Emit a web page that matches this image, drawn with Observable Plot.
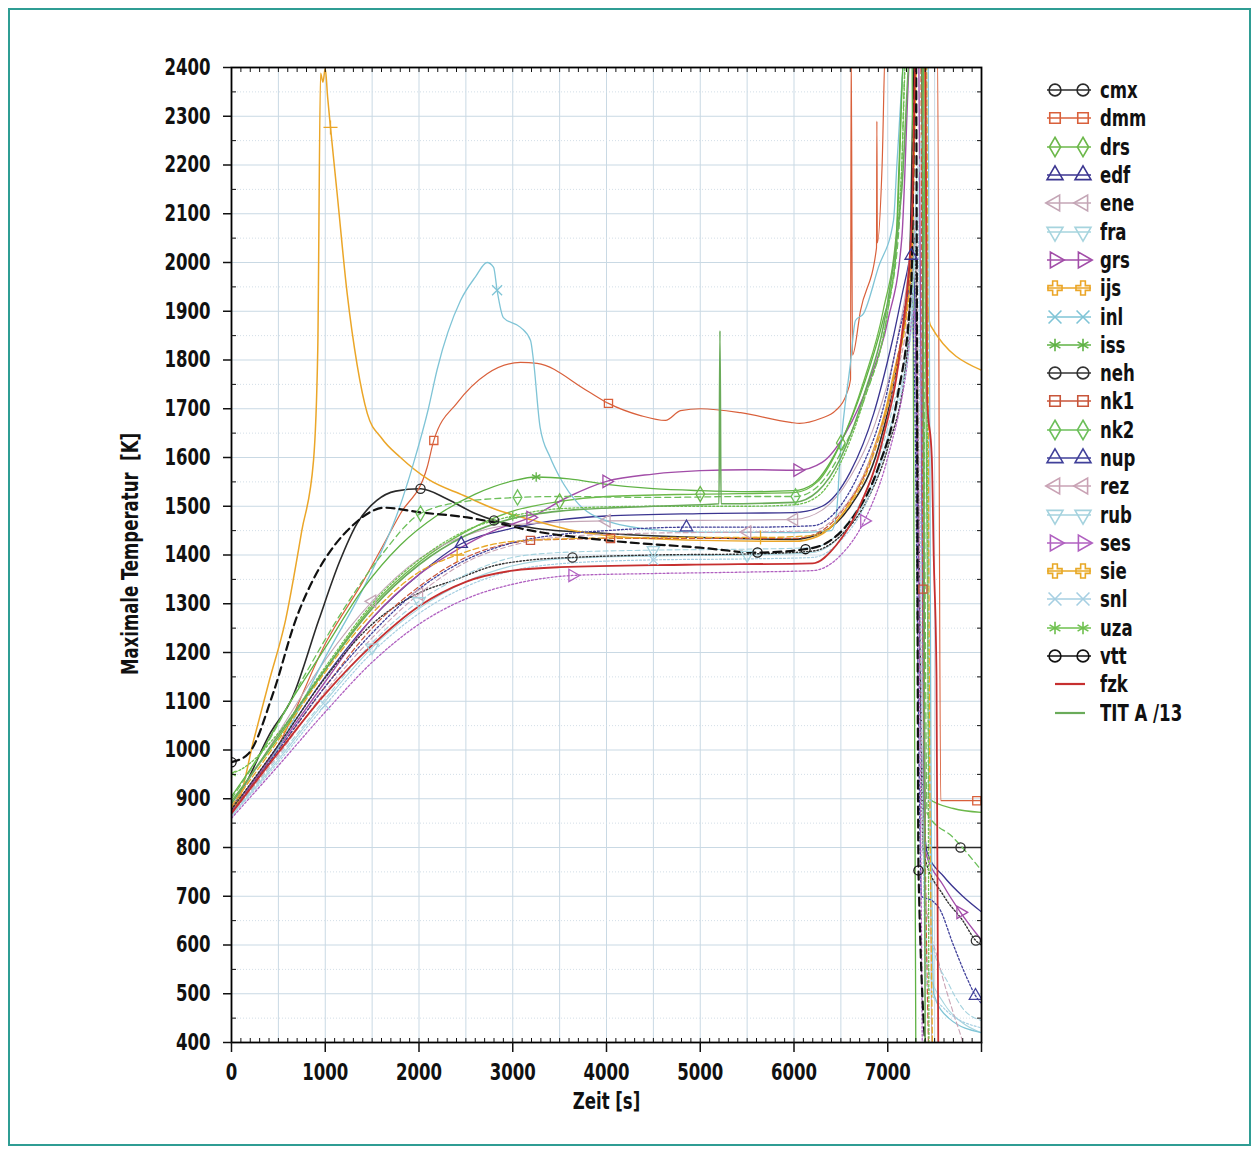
<!DOCTYPE html>
<html>
<head>
<meta charset="utf-8">
<script src="https://cdn.jsdelivr.net/npm/d3@7"></script>
<script src="https://cdn.jsdelivr.net/npm/@observablehq/plot@0.6"></script>
<style>
  html, body { margin: 0; padding: 0; background: #fff; }
  #page { position: relative; width: 1259px; height: 1154px; overflow: hidden; background: #fff; }
  #border { position: absolute; left: 8px; top: 8px; width: 1239px; height: 1134px; border: 2px solid #2f9d94; }
  #chart { position: absolute; left: 0; top: 0; }
  #ylabel { position: absolute; left: 130px; top: 554px; width: 0; height: 0; }
  #ylabel span { position: absolute; white-space: nowrap; transform: translate(-50%, -50%) rotate(-90deg) scaleX(0.8);
    font-family: "Liberation Sans Narrow", "DejaVu Sans Condensed", sans-serif; font-weight: bold; font-size: 23px; color: #111; }
  #legend { position: absolute; left: 1043px; top: 76px; font-family: "Liberation Sans Narrow", "DejaVu Sans Condensed", sans-serif; font-weight: bold; font-size: 23px; color: #111; }
  .row { height: 28.3px; display: flex; align-items: center; }
  .row svg { width: 54px; height: 24px; flex: none; }
  .row span { display: inline-block; margin-left: 3px; transform: scaleX(0.8); transform-origin: left center; white-space: nowrap; }
</style>
</head>
<body>
<div id="page">
  <div id="border"></div>
  <div id="chart"></div>
  <div id="ylabel"><span>Maximale Temperatur&nbsp; [K]</span></div>
  <div id="legend"></div>
</div>
<script>
// ---------- series names, colours, styles ----------
const names = ["cmx","dmm","drs","edf","ene","fra","grs","ijs","inl","iss","neh","nk1","nk2","nup","rez","rub","ses","sie","snl","uza","vtt","fzk","TIT A /13"];
const colors = ["#2a2a2a","#d9603b","#6cb84a","#3b3590","#c4a6b6","#a6d4de","#a24da8","#eba628","#7fc4d6","#5fb244","#333333","#c8553a","#6cbf5a","#40409a","#c9a2b4","#a4d2de","#b060c0","#e8a825","#a6cfe2","#6ec04e","#111111","#c62f2f","#6aab5a"];
const symbolNames = ["circle","square","diamond","triangle","triLeft","triDown","triRight","plus","times","asterisk","circle","square","diamond","triangle","triLeft","triDown","triRight","plus","times","asterisk","circle",null,null];
const dashes = [null,null,null,null,null,null,null,null,null,null,"1.5,2","5,3","6,4","2,2","5,3","5,3","2,2","6,3","2,2","2,2","8,5",null,null];
const widths = [1.6,1.2,1.3,1.3,1.1,1.1,1.4,1.5,1.3,1.3,1.4,1.2,1.3,1.3,1.1,1.1,1.3,1.3,1.2,1.3,2.2,1.8,1.6];

// ---------- data: [time s, temperature K] ----------
const cmx = [[0,880],[150,930],[400,1030],[650,1108],[930,1266],[1150,1385],[1340,1465],[1550,1512],[1750,1531],[2016,1536],[2300,1515],[2600,1485],[2800,1471],[3200,1456],[4000,1444],[5000,1436],[6000,1432],[6300,1446],[6600,1500],[6900,1620],[7100,1790],[7230,1980],[7290,2450],[7360,2450],[7400,800],[7776,800],[8000,800]];
const cmxMarks = [2016, 2800, 7776];
const dmm = [[0,880],[500,1010],[1020,1225],[1410,1348],[1803,1485],[2087,1580],[2158,1635],[2407,1712],[2727,1772],[3083,1795],[3260,1793],[3793,1737],[4021,1711],[4363,1686],[4629,1676],[4790,1696],[5003,1700],[5430,1692],[5963,1672],[6060,1670],[6283,1680],[6443,1696],[6560,1730],[6603,1760],[6610,2450],[6624,1810],[6710,1902],[6880,2030],[6884,2290],[6889,2040],[6940,2200],[6976,2450],[7530,2450],[7565,896],[7600,896],[7950,896],[8000,896]];
const dmmMarks = [2158, 4021, 7950];
const drs = [[0,895],[500,1025],[1000,1165],[1500,1295],[2000,1385],[2500,1448],[3000,1490],[3500,1510],[4000,1520],[5000,1525],[6000,1528],[6250,1550],[6500,1630],[6750,1760],[6950,1900],[7100,2080],[7180,2450],[7380,2450],[7440,900],[7700,880],[8000,872]];
const drsMarks = [3500, 5000, 6500];
const edf = [[0,875],[500,1010],[1000,1150],[1500,1270],[2000,1360],[2450,1423],[3000,1455],[3500,1472],[4000,1480],[5000,1485],[6000,1487],[6300,1500],[6600,1570],[6850,1690],[7050,1840],[7200,1975],[7250,2014],[7285,1950],[7320,1500],[7360,1000],[7420,790],[7600,740],[7800,700],[8000,668]];
const edfMarks = [2450, 7250];
const ene = [[0,882],[500,1035],[1000,1185],[1500,1305],[2000,1392],[2500,1440],[3000,1462],[4000,1470],[5000,1471],[6000,1473],[6300,1492],[6600,1560],[6900,1690],[7100,1840],[7250,2060],[7320,2450],[7400,2450],[7440,1200],[7470,350]];
const eneMarks = [1500, 4000, 6000];
const fra = [[0,865],[500,980],[1000,1100],[1500,1210],[2000,1290],[2500,1345],[3000,1378],[3500,1392],[4500,1398],[5500,1400],[6200,1405],[6500,1440],[6800,1530],[7050,1680],[7250,1880],[7320,2200],[7380,1100],[7420,560],[7600,480],[7800,440],[8000,420]];
const fraMarks = [1500, 5500];
const grs = [[0,876],[500,1005],[1000,1140],[1500,1270],[2000,1360],[2400,1410],[2800,1450],[3189,1477],[3600,1520],[4000,1551],[4500,1566],[5000,1573],[5500,1575],[6037,1574],[6300,1590],[6550,1650],[6800,1755],[7000,1880],[7150,2050],[7250,2450],[7330,2450],[7390,800],[7600,720],[7776,667],[8000,610]];
const grsMarks = [3189, 4000, 6037, 7776];
const ijs = [[0,882],[75,896],[235,1019],[400,1140],[576,1266],[750,1450],[875,1594],[920,1820],[950,2388],[975,2370],[1000,2398],[1025,2340],[1056,2277],[1127,2141],[1234,1936],[1340,1790],[1449,1690],[1600,1640],[1803,1600],[2100,1555],[2477,1522],[2800,1495],[3221,1471],[3600,1452],[4000,1440],[5000,1430],[6000,1428],[6250,1438],[6500,1480],[6800,1590],[7050,1760],[7250,2000],[7310,2450],[7390,2450],[7420,1930],[7456,1871],[8000,1779]];
const ijsMarks = [1056];
const inl = [[0,870],[500,1005],[1000,1190],[1449,1348],[1769,1485],[1941,1588],[2100,1700],[2193,1780],[2443,1922],[2600,1970],[2727,2000],[2796,1990],[2833,1943],[2900,1887],[3083,1867],[3190,1840],[3221,1799],[3292,1662],[3400,1600],[3500,1560],[3700,1505],[4000,1470],[4500,1452],[5000,1447],[6000,1446],[6400,1450],[6450,1480],[6496,1614],[6600,1790],[6656,1881],[6741,1895],[6900,1990],[7061,2086],[7100,2209],[7200,2450],[7430,2450],[7460,1000],[7490,500],[7650,450],[8000,420]];
const inlMarks = [2833];
const iss = [[0,905],[300,990],[600,1090],[1000,1210],[1400,1330],[1800,1420],[2200,1482],[2600,1525],[3000,1552],[3250,1560],[3600,1556],[4000,1545],[4500,1536],[5000,1532],[5500,1530],[6000,1532],[6200,1545],[6450,1612],[6750,1752],[6950,1882],[7080,2000],[7120,2200],[7180,2450],[7260,2450],[7300,350]];
const issMarks = [3250];
const neh = [[0,878],[500,1010],[1000,1148],[1500,1258],[2000,1322],[2370,1348],[2800,1378],[3200,1390],[3637,1395],[4500,1400],[5500,1402],[6200,1408],[6500,1440],[6800,1520],[7000,1620],[7200,1800],[7290,2050],[7330,1500],[7380,790],[7600,700],[7800,650],[7940,609],[8000,600]];
const nehMarks = [3637, 7940];
const nk1 = [[0,872],[500,1000],[1000,1130],[1500,1250],[2000,1335],[2500,1395],[3000,1425],[3189,1430],[3500,1432],[4043,1434],[5000,1434],[6000,1434],[6250,1445],[6550,1500],[6850,1610],[7100,1800],[7250,2000],[7310,2450],[7350,2450],[7375,1330],[7400,800],[7440,350]];
const nk1Marks = [3189, 4043, 7375];
const nk2 = [[0,900],[400,1020],[800,1160],[1200,1290],[1600,1400],[2016,1485],[2500,1510],[3051,1518],[3509,1520],[4500,1518],[5500,1520],[6016,1520],[6250,1540],[6500,1610],[6750,1720],[7000,1900],[7130,2100],[7200,2450],[7360,2450],[7420,870],[7700,820],[8000,753]];
const nk2Marks = [2016, 3051, 6016];
const nup = [[0,870],[500,1000],[1000,1130],[1500,1240],[2000,1330],[2500,1390],[3000,1425],[3500,1442],[4000,1450],[4853,1457],[5500,1457],[6200,1460],[6450,1490],[6700,1570],[6950,1700],[7150,1880],[7250,1950],[7290,1700],[7320,1200],[7360,700],[7480,690],[7550,675],[7700,600],[7850,530],[7936,496],[8000,480]];
const nupMarks = [4853, 7936];
const rez = [[0,868],[500,990],[1000,1120],[1500,1230],[2000,1320],[2500,1385],[3000,1420],[3500,1437],[4500,1445],[5500,1447],[6200,1450],[6500,1490],[6800,1590],[7050,1740],[7250,1950],[7300,2100],[7350,1200],[7400,700],[7550,560],[7700,460],[7800,400],[7850,360]];
const rezMarks = [2000, 5500];
const rub = [[0,866],[500,985],[1000,1105],[1500,1220],[2000,1305],[2500,1360],[3000,1395],[3500,1405],[4500,1410],[5500,1412],[6200,1415],[6500,1450],[6800,1545],[7050,1700],[7250,1900],[7320,2150],[7400,2300],[7440,1000],[7480,600],[7650,520],[7800,470],[8000,445]];
const rubMarks = [2000, 4500];
const ses = [[0,860],[500,968],[1000,1078],[1500,1180],[2000,1258],[2500,1310],[3000,1340],[3637,1358],[4500,1362],[5500,1365],[6200,1368],[6500,1400],[6750,1470],[7000,1600],[7200,1780],[7280,1900],[7310,1700],[7340,1100],[7370,350]];
const sesMarks = [3637, 6750];
const sie = [[0,885],[500,1020],[1000,1160],[1500,1280],[2000,1365],[2407,1400],[3000,1428],[4000,1435],[5000,1436],[5643,1436],[6200,1440],[6500,1480],[6800,1580],[7050,1750],[7250,1980],[7320,2450],[7410,2450],[7450,900],[7480,350]];
const sieMarks = [2407, 5643];
const snl = [[0,864],[500,975],[1000,1092],[1500,1200],[2000,1280],[2500,1335],[3000,1368],[3500,1382],[4500,1390],[5500,1392],[6200,1395],[6500,1430],[6800,1520],[7050,1670],[7250,1860],[7320,2100],[7370,900],[7420,520],[7600,470],[8000,430]];
const snlMarks = [1000, 4500];
const uza = [[0,952],[100,960],[500,1035],[1000,1170],[1500,1300],[2000,1390],[2500,1450],[3000,1480],[3500,1495],[4500,1500],[5500,1500],[6000,1503],[6250,1520],[6500,1590],[6750,1720],[7000,1900],[7100,2050],[7150,2200],[7200,2450],[7400,2450],[7440,350]];
const uzaMarks = [0, 3000];
const vtt = [[0,975],[183,993],[450,1120],[683,1266],[900,1360],[1100,1420],[1300,1462],[1500,1490],[1621,1497],[2034,1487],[2514,1477],[2800,1467],[3200,1450],[4000,1430],[5000,1415],[5611,1405],[6123,1412],[6350,1425],[6600,1470],[6900,1580],[7100,1720],[7250,1950],[7300,2450],[7328,753],[7420,350]];
const vttMarks = [0, 5611, 6123, 7328];
const fzk = [[0,870],[500,995],[1000,1115],[1500,1215],[2000,1295],[2500,1345],[3000,1368],[3500,1375],[4853,1380],[6200,1383],[6450,1420],[6700,1500],[6950,1640],[7150,1850],[7260,2100],[7300,2450],[7400,2450],[7420,1720],[7470,1600],[7490,1400],[7520,1150],[7540,350]];
const fzkMarks = [];
const tit = [[0,890],[500,1030],[1000,1165],[1500,1290],[2000,1380],[2500,1440],[3000,1475],[3500,1490],[4500,1500],[5200,1505],[5210,1860],[5222,1505],[6000,1508],[6250,1530],[6500,1600],[6750,1730],[7000,1920],[7150,2150],[7250,2450],[7370,2450],[7400,350]];
const titMarks = [];

const seriesData = [cmx,dmm,drs,edf,ene,fra,grs,ijs,inl,iss,neh,nk1,nk2,nup,rez,rub,ses,sie,snl,uza,vtt,fzk,tit];
const seriesMarks = [cmxMarks,dmmMarks,drsMarks,edfMarks,eneMarks,fraMarks,grsMarks,ijsMarks,inlMarks,issMarks,nehMarks,nk1Marks,nk2Marks,nupMarks,rezMarks,rubMarks,sesMarks,sieMarks,snlMarks,uzaMarks,vttMarks,fzkMarks,titMarks];

// axis ticks
const yMajor = d3.range(400, 2401, 100);
const yMinor = d3.range(450, 2400, 100);
const xMajor = d3.range(0, 7001, 1000);
const xMinor = d3.range(100, 8000, 100);
const xGrid = d3.range(0, 8001, 500);

// ---------- custom triangle symbols ----------
function tri(angleDeg) {
  const th = angleDeg * Math.PI / 180, c = Math.cos(th), s = Math.sin(th);
  return {
    draw(ctx, size) {
      const a = Math.sqrt(size * 4 / Math.sqrt(3)), h = a * Math.sqrt(3) / 2;
      const pts = [[0, -2 * h / 3], [a / 2, h / 3], [-a / 2, h / 3]].map(([x, y]) => [x * c - y * s, x * s + y * c]);
      ctx.moveTo(pts[0][0], pts[0][1]);
      ctx.lineTo(pts[1][0], pts[1][1]);
      ctx.lineTo(pts[2][0], pts[2][1]);
      ctx.closePath();
    }
  };
}
const customSym = { triLeft: tri(-90), triRight: tri(90), triDown: tri(180) };
const d3Sym = { circle: d3.symbolCircle, square: d3.symbolSquare, diamond: d3.symbolDiamond, triangle: d3.symbolTriangle, plus: d3.symbolCross, times: d3.symbolTimes, asterisk: d3.symbolAsterisk };
function symOf(n) { return customSym[n] || n; }

const FONT = '"Liberation Sans Narrow", "DejaVu Sans Condensed", sans-serif';

// ---------- marks ----------
const marks = [
  Plot.gridX(xGrid, {stroke: "#c9d9e4", strokeOpacity: 1, strokeWidth: 1}),
  Plot.gridY(yMinor, {stroke: "#d3dee7", strokeOpacity: 1, strokeDasharray: "1,2"}),
  Plot.gridY(yMajor, {stroke: "#c9d9e4", strokeOpacity: 1, strokeWidth: 1})
];
seriesData.forEach((arr, i) => {
  const rows = arr.map(([t, T]) => ({t, T}));
  marks.push(Plot.line(rows, {x: "t", y: "T", stroke: colors[i], strokeWidth: widths[i], strokeDasharray: dashes[i] || undefined, curve: "monotone-x", clip: true}));
});
seriesData.forEach((arr, i) => {
  if (!symbolNames[i]) return;
  const m = seriesMarks[i];
  const rows = arr.filter(([t]) => m.includes(t)).map(([t, T]) => ({t, T}));
  marks.push(Plot.dot(rows, {x: "t", y: "T", symbol: symOf(symbolNames[i]), r: 4.6, stroke: colors[i], fill: "none", strokeWidth: 1.3, clip: true}));
});
marks.push(
  Plot.frame({stroke: "#000", strokeWidth: 1.8}),
  Plot.axisY(yMajor, {tickSize: 8, tickPadding: 13, tickFormat: d => String(d), label: null, fontSize: 23, fontWeight: "bold", strokeWidth: 1.5}),
  Plot.axisY(yMinor, {tickSize: -5, tickFormat: () => "", label: null}),
  Plot.axisY(yMinor, {anchor: "right", tickSize: -5, tickFormat: () => "", label: null}),
  Plot.axisX(xMajor, {tickSize: 10, tickPadding: 11, tickFormat: d => String(d), label: null, fontSize: 23, fontWeight: "bold", strokeWidth: 1.5}),
  Plot.axisX([8000], {tickSize: 10, tickFormat: () => "", label: null, strokeWidth: 1.5}),
  Plot.axisX(xMinor, {tickSize: -4, tickFormat: () => "", label: null}),
  Plot.axisX(xMinor, {anchor: "top", tickSize: -4, tickFormat: () => "", label: null}),
  Plot.text(["Zeit [s]"], {frameAnchor: "bottom", dy: 66, fontSize: 23, fontWeight: "bold", fill: "#111"})
);

const chart = Plot.plot({
  width: 1259, height: 1154,
  marginLeft: 231, marginRight: 278, marginTop: 67, marginBottom: 112,
  x: {domain: [0, 8000]},
  y: {domain: [400, 2400]},
  style: {fontFamily: FONT, fontWeight: "bold", color: "#111", background: "transparent"},
  marks
});
// narrow the bold text horizontally about its own anchor point
chart.querySelectorAll("text").forEach(t => {
  if (!t.textContent) return;
  const tr = t.getAttribute("transform");
  if (tr) {
    t.setAttribute("transform", tr + " scale(0.8,1)");
  } else {
    const x = +(t.getAttribute("x") || 0), y = +(t.getAttribute("y") || 0);
    t.setAttribute("x", 0); t.setAttribute("y", 0);
    t.setAttribute("transform", `translate(${x},${y}) scale(0.8,1)`);
  }
});
document.getElementById("chart").appendChild(chart);

// ---------- legend ----------
const legend = document.getElementById("legend");
names.forEach((n, i) => {
  const row = document.createElement("div");
  row.className = "row";
  const ns = "http://www.w3.org/2000/svg";
  const svg = document.createElementNS(ns, "svg");
  svg.setAttribute("viewBox", "0 0 54 24");
  const line = document.createElementNS(ns, "line");
  const short = !symbolNames[i];
  line.setAttribute("x1", short ? 12 : 4); line.setAttribute("x2", short ? 42 : 48);
  line.setAttribute("y1", 12); line.setAttribute("y2", 12);
  line.setAttribute("stroke", colors[i]); line.setAttribute("stroke-width", short ? 2.2 : 1.6);
  svg.appendChild(line);
  if (!short) {
    const sym = customSym[symbolNames[i]] || d3Sym[symbolNames[i]];
    const d = d3.symbol().type(sym).size(110)();
    [12, 40].forEach(cx => {
      const p = document.createElementNS(ns, "path");
      p.setAttribute("d", d);
      p.setAttribute("transform", `translate(${cx},12)`);
      p.setAttribute("fill", "none");
      p.setAttribute("stroke", colors[i]);
      p.setAttribute("stroke-width", 1.6);
      svg.appendChild(p);
    });
  }
  row.appendChild(svg);
  const span = document.createElement("span");
  span.textContent = n;
  row.appendChild(span);
  legend.appendChild(row);
});
</script>
</body>
</html>
